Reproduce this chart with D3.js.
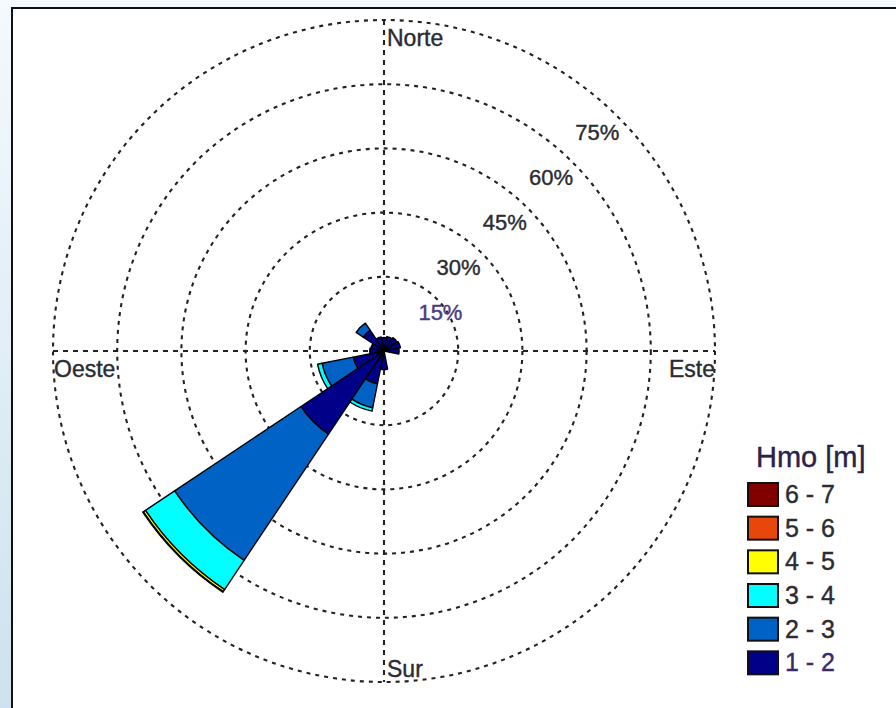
<!DOCTYPE html>
<html>
<head>
<meta charset="utf-8">
<script src="https://cdn.jsdelivr.net/npm/d3@7"></script>
<style>
  body { margin: 0; background: #fff; }
  svg { display: block; }
</style>
</head>
<body>
<svg id="rose"></svg>
<script>
// direcciones (16 sectores de 22.5°)
const directions = ['N', 'NNE', 'NE', 'ENE', 'E', 'ESE', 'SE', 'SSE', 'S', 'SSW', 'SW', 'WSW', 'W', 'WNW', 'NW', 'NNW'];
// clases de altura de ola
const hmoClasses = ['1 - 2', '2 - 3', '3 - 4', '4 - 5', '5 - 6', '6 - 7'];
const hmoColors = ['#000088', '#0062c4', '#00ffff', '#ffff00', '#e8470b', '#800000'];
// % de ocurrencia por dirección
const hmo1_2 = [0.8, 1.1, 1.4, 1.6, 1.2, 0, 0, 0, 2.0, 5.5, 21.0, 5.0, 1.0, 0.8, 3.5, 1.0];
const hmo2_3 = [0, 0, 0, 0, 0, 0, 0, 0, 0, 5.7, 35.5, 7.4, 0, 0, 2.0, 0];
const hmo3_4 = [0, 0, 0, 0, 0, 0, 0, 0, 0, 0.8, 8.2, 1.1, 0, 0, 0, 0];
const hmo4_5 = [0, 0, 0, 0, 0, 0, 0, 0, 0, 0, 0.6, 0, 0, 0, 0, 0];
const hmo5_6 = [0, 0, 0, 0, 0, 0, 0, 0, 0, 0, 0.15, 0, 0, 0, 0, 0];
const hmo6_7 = [0, 0, 0, 0, 0, 0, 0, 0, 0, 0, 0, 0, 0, 0, 0, 0];
// anillos y etiquetas
const ringTicks = [15, 30, 45, 60, 75];
const axisLabels = ['Norte', 'Este', 'Sur', 'Oeste'];
const legendTitle = 'Hmo [m]';

const width = 896, height = 708;
const cx = 384, cy = 351;

const svg = d3.select('#rose')
    .attr('width', width)
    .attr('height', height);

// fondo de la captura
const grad = svg.append('defs').append('linearGradient')
    .attr('id', 'bg').attr('x1', 0).attr('y1', 0).attr('x2', 0).attr('y2', 1);
grad.append('stop').attr('offset', '0%').attr('stop-color', '#f4fafd');
grad.append('stop').attr('offset', '100%').attr('stop-color', '#cde2ee');
svg.append('rect').attr('width', width).attr('height', height).attr('fill', 'url(#bg)');
svg.append('rect')
    .attr('x', 12).attr('y', 8)
    .attr('width', width).attr('height', height)
    .attr('fill', '#fff')
    .attr('stroke', '#111')
    .attr('stroke-width', 2);

const r = d3.scaleLinear().domain([0, 75]).range([10, 331]);

const chart = svg.append('g').attr('transform', `translate(${cx}, ${cy})`);

// rejilla
const gridColor = '#222';
chart.selectAll('circle.ring')
    .data(ringTicks)
    .join('circle')
    .attr('class', 'ring')
    .attr('r', d => r(d))
    .attr('fill', 'none')
    .attr('stroke', gridColor)
    .attr('stroke-width', 2.1)
    .attr('stroke-dasharray', '4,5');

const rMax = r(d3.max(ringTicks));
chart.append('line')
    .attr('x1', -rMax).attr('x2', rMax).attr('y1', 0).attr('y2', 0)
    .attr('stroke', gridColor).attr('stroke-width', 2.1).attr('stroke-dasharray', '5,5');
chart.append('line')
    .attr('x1', 0).attr('x2', 0).attr('y1', -rMax).attr('y2', rMax)
    .attr('stroke', gridColor).attr('stroke-width', 2.1).attr('stroke-dasharray', '5,5');

// tabla para el apilado
const series = [hmo1_2, hmo2_3, hmo3_4, hmo4_5, hmo5_6, hmo6_7];
const table = directions.map((dir, i) => {
    const row = { dir: dir, idx: i };
    hmoClasses.forEach((c, k) => { row[c] = series[k][i]; });
    return row;
});
const stacked = d3.stack().keys(hmoClasses)(table);

const step = 2 * Math.PI / directions.length;
const arc = d3.arc()
    .innerRadius(d => d[0] === 0 ? 0 : r(d[0]))
    .outerRadius(d => r(d[1]))
    .startAngle(d => d.data.idx * step - step / 2)
    .endAngle(d => d.data.idx * step + step / 2);

chart.append('g')
    .selectAll('g')
    .data(stacked)
    .join('g')
    .attr('fill', (d, k) => hmoColors[k])
    .selectAll('path')
    .data(d => d.filter(s => s[1] - s[0] > 0))
    .join('path')
    .attr('d', arc)
    .attr('stroke', '#000')
    .attr('stroke-width', 1.4)
    .attr('stroke-linejoin', 'round');

// etiquetas de porcentaje
const textColor = '#2b2b33';
chart.selectAll('text.pct')
    .data(ringTicks)
    .join('text')
    .attr('class', 'pct')
    .attr('x', (d, i) => 0.72 * r(d) - 25 + (i === 0 ? 28 : 0))
    .attr('y', d => -(0.70 * r(d) - 12.6) + 8)
    .attr('text-anchor', 'middle')
    .attr('font-family', 'Liberation Sans, Arial, sans-serif')
    .attr('font-size', 22)
    .attr('fill', (d, i) => i === 0 ? '#4a3a86' : textColor)
    .attr('stroke', (d, i) => i === 0 ? '#4a3a86' : textColor)
    .attr('stroke-width', 0.4)
    .text(d => d + '%');

// etiquetas de direcciones
const labelPos = {
    'Norte': { x: 3, y: -rMax + 26, anchor: 'start' },
    'Este':  { x: rMax, y: 26, anchor: 'end' },
    'Sur':   { x: 3, y: rMax - 5, anchor: 'start' },
    'Oeste': { x: -rMax + 1, y: 26, anchor: 'start' }
};
chart.selectAll('text.dir')
    .data(axisLabels)
    .join('text')
    .attr('class', 'dir')
    .attr('x', d => labelPos[d].x)
    .attr('y', d => labelPos[d].y)
    .attr('text-anchor', d => labelPos[d].anchor)
    .attr('font-family', 'Liberation Sans, Arial, sans-serif')
    .attr('font-size', 23)
    .attr('fill', textColor)
    .attr('stroke', textColor)
    .attr('stroke-width', 0.4)
    .text(d => d);

// leyenda
const legend = svg.append('g').attr('transform', 'translate(748, 0)');
legend.append('text')
    .attr('x', 8).attr('y', 467)
    .attr('font-family', 'Liberation Sans, Arial, sans-serif')
    .attr('font-size', 29)
    .attr('fill', '#2a2248')
    .attr('stroke', '#2a2248')
    .attr('stroke-width', 0.4)
    .text(legendTitle);

const legendOrder = hmoClasses.map((c, k) => ({ c: c, k: k })).reverse();
const ly = d3.scaleBand().domain(legendOrder.map(d => d.c)).range([483, 685]).paddingInner(0);

const items = legend.selectAll('g.item')
    .data(legendOrder)
    .join('g')
    .attr('class', 'item')
    .attr('transform', d => `translate(0, ${ly(d.c)})`);
items.append('rect')
    .attr('width', 30).attr('height', 23)
    .attr('fill', d => hmoColors[d.k])
    .attr('stroke', '#111')
    .attr('stroke-width', 2);
items.append('text')
    .attr('x', 37).attr('y', 20)
    .attr('font-family', 'Liberation Sans, Arial, sans-serif')
    .attr('font-size', 25)
    .attr('fill', d => d.k === 0 ? '#3a2a6a' : textColor)
    .attr('stroke', d => d.k === 0 ? '#3a2a6a' : textColor)
    .attr('stroke-width', 0.4)
    .text(d => d.c);
</script>
</body>
</html>
